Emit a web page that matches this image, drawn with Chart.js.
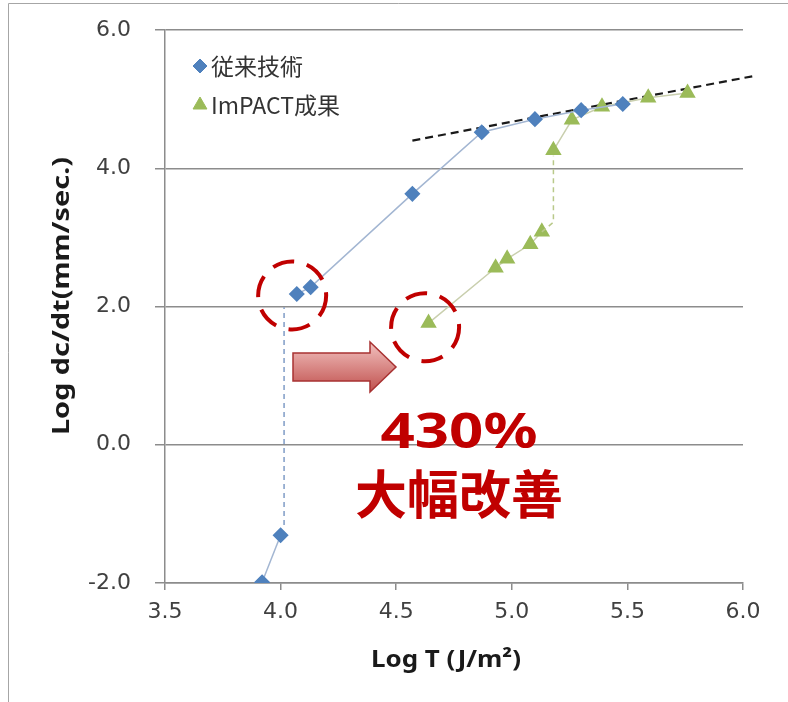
<!DOCTYPE html>
<html>
<head>
<meta charset="utf-8">
<script src="https://cdn.jsdelivr.net/npm/chart.js@4.4.0/dist/chart.umd.min.js"></script>
<style>
  html, body { margin: 0; padding: 0; background: #fff; }
  #wrap { width: 788px; height: 702px; }
</style>
</head>
<body>
<div id="wrap"><canvas id="chart" width="788" height="702"></canvas></div>
<script>
// 従来技術
const blueX = [3.92, 4.00, 4.07, 4.13, 4.57, 4.87, 5.10, 5.30, 5.48];
const blueY = [-1.99, -1.31, 2.18, 2.28, 3.63, 4.52, 4.71, 4.84, 4.93];
// ImPACT成果
const greenX = [4.64, 4.93, 4.98, 5.08, 5.13, 5.18, 5.26, 5.39, 5.59, 5.76];
const greenY = [1.76, 2.56, 2.69, 2.90, 3.08, 4.26, 4.70, 4.89, 5.02, 5.09];
// 破線のジャンプ部分
const blueJumpX = [4.015, 4.015];
const blueJumpY = [-1.16, 1.99];
const greenJumpX = [5.13, 5.18, 5.18];
const greenJumpY = [3.08, 3.22, 4.18];
// 近似線（黒破線）
const trendX = [4.57, 6.04];
const trendY = [4.40, 5.33];

const xTicks = [3.5, 4.0, 4.5, 5.0, 5.5, 6.0];
const yTicks = [-2, 0, 2, 4, 6];

const BLUE = "#4f81bd";
const GREEN = "#9bbb59";
const GRID = "#8c8c8c";
const RED = "#c00000";

const pts = (xs, ys) => xs.map((x, i) => ({ x, y: ys[i] }));

// 凡例・注記・軸タイトル
const overlay = {
  id: "overlay",
  afterDraw(chart) {
    const { ctx, scales: { x, y } } = chart;
    ctx.save();

    // 外枠
    ctx.strokeStyle = "#a6a6a6";
    ctx.lineWidth = 1;
    ctx.beginPath();
    ctx.moveTo(8.5, 702);
    ctx.lineTo(8.5, 3.5);
    ctx.lineTo(788, 3.5);
    ctx.stroke();

    const fitText = (txt, cx, cy, w, rot) => {
      const m = ctx.measureText(txt).width;
      ctx.save();
      ctx.translate(cx, cy);
      if (rot) ctx.rotate(rot);
      ctx.scale(w / m, 1);
      ctx.fillText(txt, 0, 0);
      ctx.restore();
    };

    // 軸タイトル
    ctx.fillStyle = "#1a1a1a";
    ctx.textAlign = "center";
    ctx.textBaseline = "middle";
    ctx.font = "bold 23px 'Noto Sans'";
    fitText("Log T (J/m²)", 446, 660, 150);
    ctx.font = "bold 24px 'Noto Sans'";
    fitText("Log dc/dt(mm/sec.)", 62, 296, 278, -Math.PI / 2);

    // 凡例
    const legend = [
      { label: "従来技術", color: BLUE, style: "rectRot", r: 7, yy: 66 },
      { label: "ImPACT成果", color: GREEN, style: "triangle", r: 8, yy: 105 }
    ];
    ctx.font = "23px 'Noto Sans CJK JP'";
    ctx.textAlign = "left";
    legend.forEach(l => {
      ctx.fillStyle = l.color;
      ctx.strokeStyle = l.color;
      Chart.helpers.drawPoint(ctx, { pointStyle: l.style, radius: l.r, borderWidth: 1 }, 200, l.yy);
      ctx.fillStyle = "#333";
      ctx.fillText(l.label, 211, l.yy);
    });

    // 破線の丸
    ctx.strokeStyle = RED;
    ctx.lineWidth = 4;
    ctx.setLineDash([22, 13]);
    [[4.05, 2.16], [4.625, 1.70]].forEach(([cx, cy]) => {
      ctx.beginPath();
      ctx.arc(x.getPixelForValue(cx), y.getPixelForValue(cy), 34, 0, Math.PI * 2);
      ctx.stroke();
    });
    ctx.setLineDash([]);

    // 矢印
    const ax = 293, ay = 367;
    const grad = ctx.createLinearGradient(0, ay - 25, 0, ay + 25);
    grad.addColorStop(0, "#f2c2c0");
    grad.addColorStop(1, "#c0504d");
    ctx.fillStyle = grad;
    ctx.strokeStyle = "#a83232";
    ctx.lineWidth = 1.5;
    ctx.beginPath();
    ctx.moveTo(ax, ay - 14);
    ctx.lineTo(ax + 77, ay - 14);
    ctx.lineTo(ax + 77, ay - 25);
    ctx.lineTo(ax + 103, ay);
    ctx.lineTo(ax + 77, ay + 25);
    ctx.lineTo(ax + 77, ay + 14);
    ctx.lineTo(ax, ay + 14);
    ctx.closePath();
    ctx.fill();
    ctx.stroke();

    // 改善率
    ctx.fillStyle = RED;
    ctx.textAlign = "center";
    ctx.textBaseline = "alphabetic";
    ctx.font = "bold 48px 'Noto Sans'";
    fitText("430%", 459, 448, 157);
    ctx.textBaseline = "middle";
    ctx.font = "bold 52px 'Noto Sans CJK JP'";
    fitText("大幅改善", 459, 494, 208);

    ctx.restore();
  }
};

new Chart(document.getElementById("chart"), {
  type: "scatter",
  data: {
    datasets: [
      {
        label: "blueJump",
        data: pts(blueJumpX, blueJumpY),
        showLine: true,
        borderColor: "#7f9cc6",
        borderWidth: 1.5,
        borderDash: [5, 4],
        pointRadius: 0
      },
      {
        label: "greenJump",
        data: pts(greenJumpX, greenJumpY),
        showLine: true,
        borderColor: "#b9c98a",
        borderWidth: 1.5,
        borderDash: [5, 4],
        pointRadius: 0
      },
      {
        label: "従来技術",
        data: pts(blueX, blueY),
        showLine: true,
        borderColor: "#a3b6d2",
        borderWidth: 1.5,
        backgroundColor: BLUE,
        pointBorderColor: BLUE,
        pointStyle: "rectRot",
        pointRadius: 7,
        segment: { borderColor: c => (c.p0DataIndex === 1 ? "transparent" : undefined) }
      },
      {
        label: "ImPACT成果",
        data: pts(greenX, greenY),
        showLine: true,
        borderColor: "#c9cfae",
        borderWidth: 1.5,
        backgroundColor: GREEN,
        pointBorderColor: GREEN,
        pointStyle: "triangle",
        pointRadius: 8,
        segment: { borderColor: c => (c.p0DataIndex === 4 ? "transparent" : undefined) }
      },
      {
        label: "trend",
        data: pts(trendX, trendY),
        showLine: true,
        borderColor: "#1a1a1a",
        borderWidth: 2.2,
        borderDash: [8, 5],
        pointRadius: 0,
        clip: false
      }
    ]
  },
  options: {
    responsive: false,
    animation: false,
    layout: { padding: { top: 30, right: 45, left: 0, bottom: 0 } },
    plugins: { legend: { display: false }, tooltip: { enabled: false } },
    scales: {
      x: {
        type: "linear",
        min: 3.5,
        max: 6.0,
        afterBuildTicks: s => { s.ticks = xTicks.map(v => ({ value: v })); },
        afterFit: s => { s.height = 119; },
        ticks: {
          callback: v => v.toFixed(1),
          color: "#404040",
          font: { family: "DejaVu Sans", size: 22 },
          padding: 9,
          maxRotation: 0
        },
        grid: { drawOnChartArea: false, color: GRID, tickLength: 7, lineWidth: 1.5 },
        border: { color: GRID, width: 1.5 }
      },
      y: {
        min: -2,
        max: 6,
        afterBuildTicks: s => { s.ticks = yTicks.map(v => ({ value: v })); },
        afterFit: s => { s.width = 165; s.paddingTop = 0; s.paddingBottom = 0; },
        ticks: {
          callback: v => v.toFixed(1),
          color: "#404040",
          font: { family: "DejaVu Sans", size: 22 },
          padding: 24
        },
        grid: { color: GRID, tickLength: 10, lineWidth: 1.5 },
        border: { color: GRID, width: 1.5 }
      }
    }
  },
  plugins: [overlay]
});
</script>
</body>
</html>
